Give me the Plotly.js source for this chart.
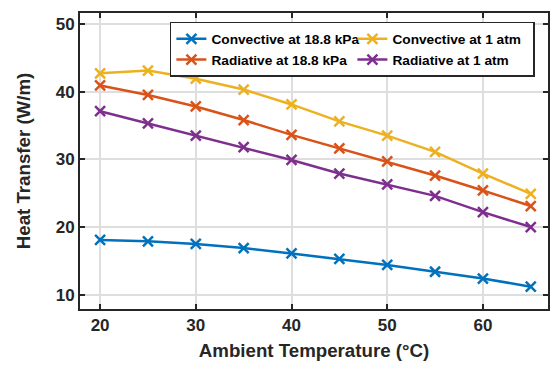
<!DOCTYPE html>
<html><head><meta charset="utf-8">
<script src="https://cdn.plot.ly/plotly-3.0.1.min.js"></script>
<style>body{margin:0;background:#fff}#c{width:553px;height:367px}</style>
</head><body><div id="c"></div>
<script>
const temps = [20, 25, 30, 35, 40, 45, 50, 55, 60, 65];
const convective18 = [18.1, 17.9, 17.5, 16.9, 16.1, 15.3, 14.4, 13.4, 12.4, 11.2];
const convective1atm = [42.7, 43.1, 41.9, 40.3, 38.1, 35.6, 33.5, 31.1, 27.9, 24.9];
const radiative18 = [40.9, 39.5, 37.8, 35.8, 33.6, 31.6, 29.7, 27.6, 25.4, 23.1];
const radiative1atm = [37.1, 35.3, 33.5, 31.8, 29.9, 27.9, 26.3, 24.6, 22.2, 20.0];
const names = ['Convective at 18.8 kPa', 'Convective at 1 atm', 'Radiative at 18.8 kPa', 'Radiative at 1 atm'];
const colors = ['#0072BD', '#EDB120', '#D95319', '#7E2F8E'];
const series = [convective18, convective1atm, radiative18, radiative1atm];
const xTicks = [20, 30, 40, 50, 60];
const yTicks = [10, 20, 30, 40, 50];

const traces = series.map((s, i) => ({
  x: temps, y: s, name: names[i], type: 'scatter', mode: 'lines+markers',
  line: {color: colors[i], width: 2.5},
  marker: {symbol: 'x-thin', size: 10, line: {color: colors[i], width: 2.5}}
}));
const fam = 'Liberation Sans, Arial, sans-serif';
const axBase = {
  showline: true, linecolor: '#262626', linewidth: 2, mirror: 'ticks',
  ticks: 'inside', ticklen: 5, tickwidth: 2, tickcolor: '#262626',
  showgrid: true, gridcolor: '#dedede', gridwidth: 2, zeroline: false,
  tickfont: {family: fam, size: 17, color: '#262626', weight: 'bold'}
};
const layout = {
  width: 553, height: 367,
  margin: {l: 80, r: 5, t: 13, b: 58},
  paper_bgcolor: '#fff', plot_bgcolor: '#fff',
  showlegend: true,
  legend: {
    orientation: 'h', x: 0.972, xanchor: 'right', y: 0.97, yanchor: 'top',
    bgcolor: '#fff', bordercolor: '#262626', borderwidth: 1.5,
    font: {family: fam, size: 13.7, color: '#000', weight: 'bold'},
    entrywidth: 136, itemwidth: 30, tracegroupgap: 0
  },
  xaxis: Object.assign({}, axBase, {
    range: [17.9, 66.8], tickvals: xTicks, ticktext: xTicks.map(String),
    title: {text: 'Ambient Temperature (°C)', standoff: 10,
      font: {family: fam, size: 18.7, color: '#262626', weight: 'bold'}}
  }),
  yaxis: Object.assign({}, axBase, {
    range: [7.9, 51.6], tickvals: yTicks, ticktext: yTicks.map(String),
    title: {text: 'Heat Transfer (W/m)', standoff: 20,
      font: {family: fam, size: 18.7, color: '#262626', weight: 'bold'}}
  })
};
Plotly.newPlot('c', traces, layout, {displayModeBar: false, staticPlot: true});
</script></body></html>
